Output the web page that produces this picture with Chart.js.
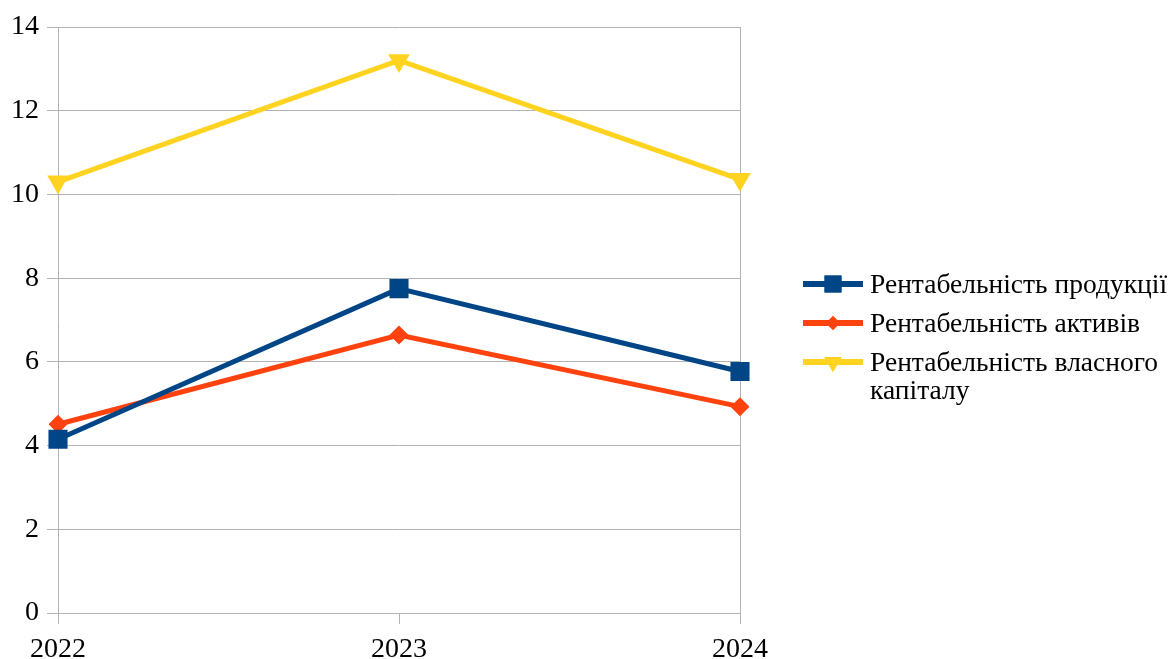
<!DOCTYPE html>
<html>
<head>
<meta charset="utf-8">
<script src="https://cdn.jsdelivr.net/npm/chart.js@4/dist/chart.umd.min.js"></script>
<style>
  body { margin: 0; background: #fff; }
  #wrap { position: relative; width: 1171px; height: 659px; }
  #legend { position: absolute; left: 803px; top: 270px; font-family: "Liberation Serif", "Times New Roman", serif; font-size: 27.5px; color: #000; }
  .row { display: flex; align-items: flex-start; line-height: 28px; margin-bottom: 11px; white-space: nowrap; }
  .row canvas { margin-top: 3px; margin-right: 7px; flex: none; }
</style>
</head>
<body>
<div id="wrap">
  <canvas id="chart" width="1171" height="659"></canvas>
  <div id="legend"></div>
</div>
<script>
// дані з діаграми
const years = ['2022', '2023', '2024'];
const seriesNames = ['Рентабельність продукції', 'Рентабельність активів', 'Рентабельність власного капіталу'];
const productProfit = [4.15, 7.75, 5.77];
const assetsProfit = [4.51, 6.64, 4.93];
const equityProfit = [10.3, 13.2, 10.36];
const yTicks = [0, 2, 4, 6, 8, 10, 12, 14];

const colors = ['#004586', '#ff420e', '#ffd320'];
const shapes = ['rect', 'rectRot', 'triangle'];
const radii = [13.5, 9.5, 12.5];
const legendRadii = [12, 7, 10];
const rotations = [0, 0, 180];
const gridColor = '#b3b3b3';
const fontFamily = '"Liberation Serif", "Times New Roman", serif';

function makeSet(i, data) {
    return {
        label: seriesNames[i],
        data: data,
        borderColor: colors[i],
        backgroundColor: colors[i],
        borderWidth: 5,
        pointStyle: shapes[i],
        pointRadius: radii[i],
        pointRotation: rotations[i],
        pointBorderWidth: 0,
        tension: 0
    };
}

const ctx = document.getElementById('chart').getContext('2d');
const chart = new Chart(ctx, {
    type: 'line',
    data: {
        labels: years,
        datasets: [
            makeSet(0, productProfit),
            makeSet(1, assetsProfit),
            makeSet(2, equityProfit)
        ]
    },
    options: {
        responsive: false,
        animation: false,
        layout: { padding: { top: 27, right: 431, left: 0, bottom: 0 } },
        plugins: { legend: { display: false }, tooltip: { enabled: false } },
        scales: {
            x: {
                offset: false,
                grid: {
                    // лише права рамка, без вертикальних ліній всередині
                    color: c => c.index === years.length - 1 ? gridColor : 'rgba(0,0,0,0)',
                    tickColor: gridColor,
                    tickLength: 11,
                    lineWidth: 1
                },
                border: { color: gridColor },
                ticks: {
                    color: '#000',
                    font: { family: fontFamily, size: 28 },
                    padding: 9,
                    maxRotation: 0
                },
                afterFit: s => { s.height = 46; }
            },
            y: {
                min: 0,
                max: 14,
                afterBuildTicks: s => { s.ticks = yTicks.map(v => ({ value: v })); },
                grid: { color: gridColor, tickLength: 11, lineWidth: 1 },
                border: { color: gridColor },
                ticks: {
                    color: '#000',
                    font: { family: fontFamily, size: 28 },
                    padding: 8
                },
                afterFit: s => { s.width = 58; }
            }
        }
    }
});

// легенда з переносом рядка як в оригіналі
const legend = document.getElementById('legend');
seriesNames.forEach((name, i) => {
    const row = document.createElement('div');
    row.className = 'row';
    const c = document.createElement('canvas');
    c.width = 60; c.height = 22;
    const g = c.getContext('2d');
    g.strokeStyle = colors[i];
    g.lineWidth = 6;
    g.beginPath(); g.moveTo(0, 11); g.lineTo(60, 11); g.stroke();
    g.fillStyle = colors[i];
    Chart.helpers.drawPoint(g, { pointStyle: shapes[i], radius: legendRadii[i], rotation: rotations[i], borderWidth: 0 }, 30, 11);
    g.fill();
    row.appendChild(c);
    const t = document.createElement('div');
    t.innerHTML = i === 2 ? 'Рентабельність власного<br>капіталу' : name;
    row.appendChild(t);
    legend.appendChild(row);
});
</script>
</body>
</html>
